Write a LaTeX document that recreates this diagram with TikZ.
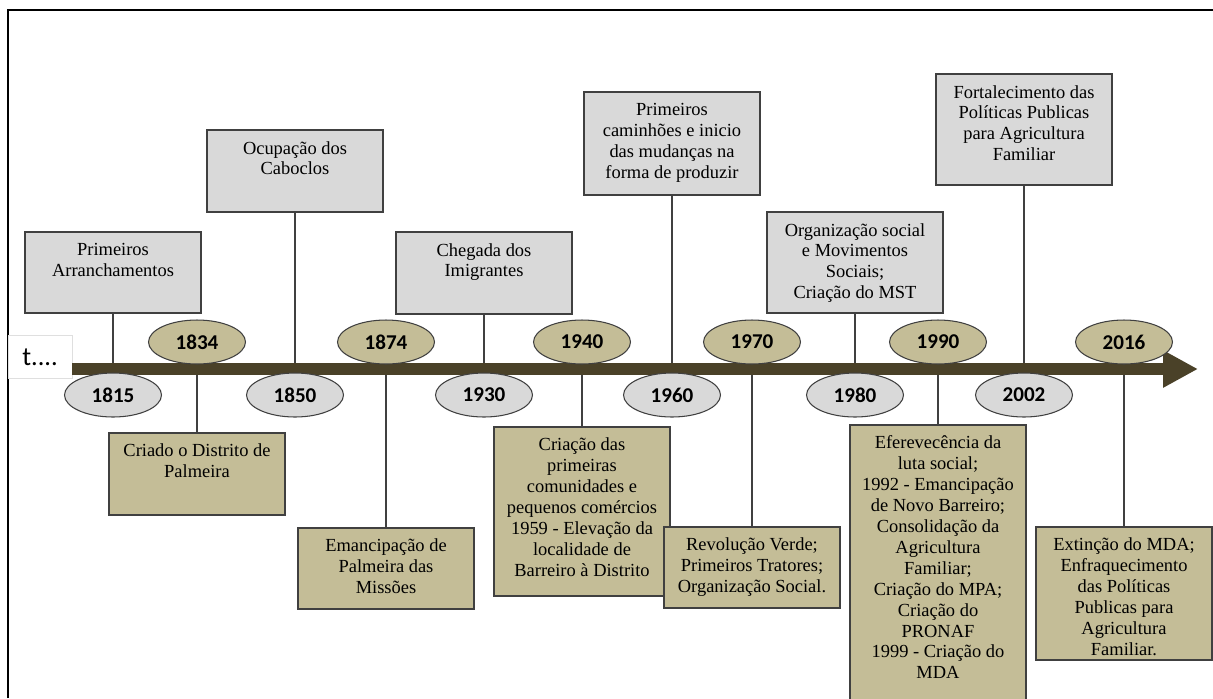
\documentclass[tikz,border=0pt]{standalone}
\usepackage{fontspec}
\setmainfont{Liberation Serif}
\newfontfamily\yearfont{Carlito}
\usetikzlibrary{shapes.geometric,arrows.meta}
\definecolor{barcol}{HTML}{4A4128}
\definecolor{tan}{HTML}{C4BD97}
\definecolor{lgray}{HTML}{D9D9D9}
\definecolor{edge}{HTML}{404040}
\newdimen\pxu \pxu=0.02cm
\newcommand{\evt}[2]{\parbox[c][#1\pxu][t]{176\pxu}{\centering\vspace*{6.3pt}#2}}
\begin{document}
\begin{tikzpicture}[x=0.02cm, y=-0.02cm,
    evbox/.style={draw=edge, line width=0.9pt, inner sep=0pt, font=\fontsize{10.5}{11.9}\selectfont},
    upbox/.style={evbox, fill=lgray, anchor=south},
    lowbox/.style={evbox, fill=tan, anchor=north},
    yr/.style={ellipse, draw=edge, line width=0.6pt, minimum width=1.94cm, minimum height=0.88cm, inner sep=0pt,
        font=\yearfont\bfseries\fontsize{12}{12}\selectfont},
    conn/.style={draw=edge, line width=0.8pt}]
    \useasboundingbox (0,0) rectangle (1213,698);
    \clip (0,0) rectangle (1213,698);
    % moldura
    \draw[line width=1.1pt] (8,698) -- (8,10) -- (1213,10);
    \coordinate (axis) at (0,369);
    \coordinate (tip) at (1198,369);
    \node[draw=gray!25, minimum width=1.28cm, minimum height=0.86cm, inner sep=0pt,
        font=\yearfont\fontsize{15}{16}\selectfont] (tlabel) at (40,357) {t....};
    % acontecimentos acima da linha
    \node[upbox] (arr) at (113,314) {\evt{81}{Primeiros\\Arranchamentos}};
    \node[upbox] (cab) at (295,213) {\evt{82}{Ocupação dos\\Caboclos}};
    \node[upbox] (imi) at (484,315) {\evt{82}{Chegada dos\\Imigrantes}};
    \node[upbox] (cam) at (672,196) {\evt{103}{Primeiros\\caminhões e inicio\\das mudanças na\\forma de produzir}};
    \node[upbox] (mst) at (855,314) {\evt{101}{Organização social\\e Movimentos\\Sociais;\\Criação do MST}};
    \node[upbox] (pol) at (1024,186) {\evt{111}{Fortalecimento das\\Políticas Publicas\\para Agricultura\\Familiar}};
    % acontecimentos abaixo da linha
    \node[lowbox] (dist) at (197,432) {\evt{82}{Criado o Distrito de\\Palmeira}};
    \node[lowbox] (emc) at (386,527) {\evt{81}{Emancipação de\\Palmeira das\\Missões}};
    \node[lowbox] (com) at (582,426) {\evt{169}{Criação das\\primeiras\\comunidades e\\pequenos comércios\\1959 - Elevação da\\localidade de\\Barreiro à Distrito}};
    \node[lowbox] (rev) at (752,526) {\evt{81}{Revolução Verde;\\Primeiros Tratores;\\Organização Social.}};
    \node[lowbox] (luta) at (938,424) {\evt{290}{Eferevecência da\\luta social;\\1992 - Emancipação\\de Novo Barreiro;\\Consolidação da\\Agricultura\\Familiar;\\Criação do MPA;\\Criação do\\PRONAF\\1999 - Criação do\\MDA}};
    \node[lowbox] (mda) at (1124,526) {\evt{133}{Extinção do MDA;\\Enfraquecimento\\das Políticas\\Publicas para\\Agricultura\\Familiar.}};
    % ligacoes
    \foreach \b in {arr,cab,imi,cam,mst,pol}
        \draw[conn] (\b.south) -- (\b.south |- axis);
    \foreach \b in {dist,emc,com,rev,luta,mda}
        \draw[conn] (\b.north) -- (\b.north |- axis);
    % linha do tempo
    \draw[barcol, line width=0.24cm, -{Triangle[length=0.7cm, width=0.7cm]}] (tlabel.east |- axis) -- (tip);
    \foreach \y/\xx in {1815/113, 1850/295, 1930/484, 1960/672, 1980/855, 2002/1024}
        \node[yr, fill=lgray] (y\y) at (\xx,395) {\y};
    \foreach \y/\xx in {1834/197, 1874/386, 1940/582, 1970/752, 1990/938, 2016/1124}
        \node[yr, fill=tan] (y\y) at (\xx,342) {\y};
\end{tikzpicture}
\end{document}
